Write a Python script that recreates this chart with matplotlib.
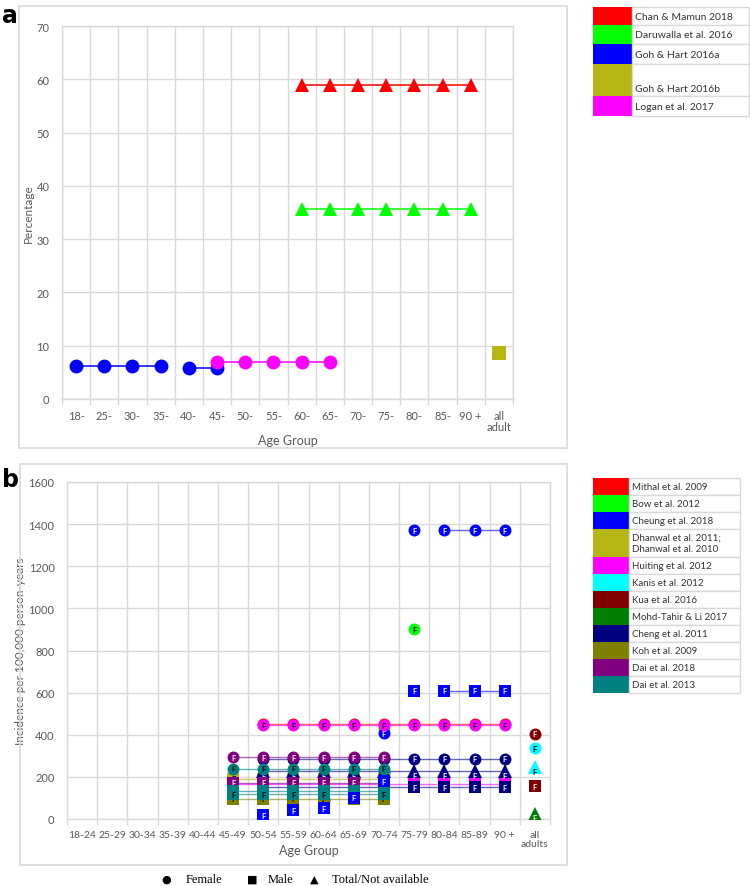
import numpy as np
import matplotlib.pyplot as plt
from matplotlib.patches import Rectangle

plt.rcParams["font.family"] = ["Lato", "DejaVu Sans"]

W, H = 750, 887          # figure size in pixels
GRID = "#d9d9d9"
TXT = "#595959"

# ------------------------------------------------------------
# panel a : prevalence (percentage)
# ------------------------------------------------------------
ages_a = ["18-", "25-", "30-", "35-", "40-", "45-", "50-", "55-", "60-",
          "65-", "70-", "75-", "80-", "85-", "90 +", "all\nadult"]

chan_ages = ["60-", "65-", "70-", "75-", "80-", "85-", "90 +"]
chan_vals = [59, 59, 59, 59, 59, 59, 59]
daru_ages = ["60-", "65-", "70-", "75-", "80-", "85-", "90 +"]
daru_vals = [35.6, 35.6, 35.6, 35.6, 35.6, 35.6, 35.6]
goh_a1_ages = ["18-", "25-", "30-", "35-"]
goh_a1_vals = [6.1, 6.1, 6.1, 6.1]
goh_a2_ages = ["40-", "45-"]
goh_a2_vals = [5.8, 5.8]
logan_ages = ["45-", "50-", "55-", "60-", "65-"]
logan_vals = [6.9, 6.9, 6.9, 6.9, 6.9]
goh_b_ages = ["all\nadult"]
goh_b_vals = [8.6]

# ------------------------------------------------------------
# panel b : incidence per 100,000 person-years
# ------------------------------------------------------------
ages_b = ["18-24", "25-29", "30-34", "35-39", "40-44", "45-49", "50-54",
          "55-59", "60-64", "65-69", "70-74", "75-79", "80-84", "85-89",
          "90 +", "all\nadults"]

mithal_f_ages = ["50-54", "55-59", "60-64", "65-69", "70-74", "75-79", "80-84", "85-89", "90 +"]
mithal_f_vals = [452, 452, 452, 452, 452, 452, 452, 452, 452]

bow_f1_ages = ["70-74"]
bow_f1_vals = [432]
bow_f2_ages = ["75-79"]
bow_f2_vals = [900]

cheung_f1_ages = ["60-64", "65-69", "70-74"]
cheung_f1_vals = [88, 195, 220]
cheung_f2_ages = ["70-74"]
cheung_f2_vals = [406]
cheung_f3_ages = ["75-79"]
cheung_f3_vals = [1370]
cheung_f4_ages = ["80-84", "85-89", "90 +"]
cheung_f4_vals = [1370, 1370, 1370]
cheung_m1_ages = ["50-54", "55-59", "60-64", "65-69", "70-74"]
cheung_m1_vals = [17, 41, 52, 100, 180]
cheung_m2_ages = ["75-79"]
cheung_m2_vals = [610]
cheung_m3_ages = ["80-84", "85-89", "90 +"]
cheung_m3_vals = [610, 610, 610]

dhanwal_m_ages = ["45-49", "50-54", "55-59", "60-64", "65-69", "70-74"]
dhanwal_m_vals = [190, 190, 190, 190, 190, 190]

huiting_f_ages = ["50-54", "55-59", "60-64", "65-69", "70-74", "75-79", "80-84", "85-89", "90 +"]
huiting_f_vals = [445, 445, 445, 445, 445, 445, 445, 445, 445]
huiting_m_ages = ["45-49", "50-54", "55-59", "60-64", "65-69", "70-74", "75-79", "80-84", "85-89", "90 +"]
huiting_m_vals = [165, 165, 165, 165, 165, 165, 165, 165, 165, 165]

kanis_f_ages = ["all\nadults"]
kanis_f_vals = [335]
kanis_t_ages = ["all\nadults"]
kanis_t_vals = [245]

kua_f_ages = ["all\nadults"]
kua_f_vals = [405]
kua_m_ages = ["all\nadults"]
kua_m_vals = [155]

mohd_t_ages = ["all\nadults"]
mohd_t_vals = [25]

cheng_f_ages = ["50-54", "55-59", "60-64", "65-69", "70-74", "75-79", "80-84", "85-89", "90 +"]
cheng_f_vals = [285, 285, 285, 285, 285, 285, 285, 285, 285]
cheng_t_ages = ["50-54", "55-59", "60-64", "65-69", "70-74", "75-79", "80-84", "85-89", "90 +"]
cheng_t_vals = [228, 228, 228, 228, 228, 228, 228, 228, 228]
cheng_m_ages = ["50-54", "55-59", "60-64", "65-69", "70-74", "75-79", "80-84", "85-89", "90 +"]
cheng_m_vals = [150, 150, 150, 150, 150, 150, 150, 150, 150]

koh_m_ages = ["45-49", "50-54", "55-59", "60-64", "65-69", "70-74"]
koh_m_vals = [95, 95, 95, 95, 95, 95]

dai18_f_ages = ["45-49", "50-54", "55-59", "60-64", "65-69", "70-74"]
dai18_f_vals = [293, 293, 293, 293, 293, 293]
dai18_m_ages = ["45-49", "50-54", "55-59", "60-64", "65-69", "70-74"]
dai18_m_vals = [172, 172, 172, 172, 172, 172]

dai13_f_ages = ["45-49", "50-54", "55-59", "60-64", "65-69", "70-74"]
dai13_f_vals = [238, 238, 238, 238, 238, 238]
dai13_m1_ages = ["45-49", "50-54", "55-59", "60-64", "65-69", "70-74"]
dai13_m1_vals = [135, 135, 135, 135, 135, 135]
dai13_m2_ages = ["45-49", "50-54", "55-59", "60-64", "65-69", "70-74"]
dai13_m2_vals = [117, 117, 117, 117, 117, 117]

# legend entries / colours
studies_a = ["Chan & Mamun 2018", "Daruwalla et al. 2016", "Goh & Hart 2016a",
             "Goh & Hart 2016b", "Logan et al. 2017"]
colors_a = ["#ff0000", "#00ff00", "#0000ff", "#b5b514", "#ff00ff"]

studies_b = ["Mithal et al. 2009", "Bow et al. 2012", "Cheung et al. 2018",
             "Dhanwal et al. 2011;\nDhanwal et al. 2010", "Huiting et al. 2012",
             "Kanis et al. 2012", "Kua et al. 2016", "Mohd-Tahir & Li 2017",
             "Cheng et al. 2011", "Koh et al. 2009", "Dai et al. 2018", "Dai et al. 2013"]
colors_b = ["#ff0000", "#00ff00", "#0000ff", "#b5b514", "#ff00ff", "#00ffff",
            "#800000", "#008000", "#000080", "#808000", "#800080", "#008080"]


def fx(px):
    return px / W


def fy(py):
    return 1 - py / H


fig = plt.figure(figsize=(W / 100, H / 100), dpi=100)

# outer panel frames
for (x0, y0, x1, y1) in [(19, 7, 567, 449), (20, 465, 567, 866)]:
    fig.patches.append(Rectangle((fx(x0), fy(y1)), fx(x1) - fx(x0), fy(y0) - fy(y1),
                                 transform=fig.transFigure, fill=False,
                                 edgecolor=GRID, linewidth=1.2))

fig.text(fx(2), fy(16), "a", fontsize=17, fontweight="bold", family="DejaVu Sans", va="center")
fig.text(fx(2), fy(480), "b", fontsize=17, fontweight="bold", family="DejaVu Sans", va="center")


def style_axes(ax, labels, ylim, ystep, ylabel, tick_fs, xlab_y):
    n = len(labels)
    ax.set_xlim(-0.5, n - 0.5)
    ax.set_ylim(*ylim)
    ax.set_yticks(np.arange(ylim[0], ylim[1] + 1, ystep))
    ax.set_xticks(np.arange(n))
    ax.set_xticklabels(labels, fontsize=tick_fs, color=TXT, linespacing=1.0)
    ax.set_xticks(np.arange(n + 1) - 0.5, minor=True)
    ax.tick_params(axis="x", which="major", length=0, pad=8)
    ax.tick_params(axis="x", which="minor", length=4, color=GRID, width=1)
    ax.tick_params(axis="y", length=0, pad=9, labelsize=8, labelcolor=TXT)
    ax.grid(axis="x", which="minor", color=GRID, linewidth=1)
    ax.grid(axis="y", which="major", color=GRID, linewidth=1)
    for s in ax.spines.values():
        s.set_color(GRID)
        s.set_linewidth(1)
    ax.set_axisbelow(True)
    ax.set_ylabel(ylabel, fontsize=8.5, color=TXT, labelpad=2)
    ax.set_xlabel("Age Group", fontsize=9, color=TXT, va="center")
    ax.xaxis.set_label_coords(0.5, xlab_y)


# ------------------------------------------------------------
# panel a
# ------------------------------------------------------------
ax1 = fig.add_axes([fx(62), fy(400), fx(513) - fx(62), fy(27) - fy(400)])
style_axes(ax1, ages_a, (0, 70), 10, "Percentage", 8, -41 / 373)
pos_a = {lab: i for i, lab in enumerate(ages_a)}

series_a = [
    (chan_ages, chan_vals, colors_a[0], "^"),
    (daru_ages, daru_vals, colors_a[1], "^"),
    (goh_a1_ages, goh_a1_vals, colors_a[2], "o"),
    (goh_a2_ages, goh_a2_vals, colors_a[2], "o"),
    (logan_ages, logan_vals, colors_a[4], "o"),
    (goh_b_ages, goh_b_vals, colors_a[3], "s"),
]
for k, (ages, vals, c, m) in enumerate(series_a):
    xs = [pos_a[a] for a in ages]
    ms = 10 if m != "s" else 9.5
    ax1.plot(xs, vals, color=c, lw=1.1, marker=m, markersize=ms,
             markeredgewidth=0, zorder=3 + k)

# ------------------------------------------------------------
# panel b
# ------------------------------------------------------------
ax2 = fig.add_axes([fx(67), fy(820), fx(550) - fx(67), fy(483) - fy(820)])
style_axes(ax2, ages_b, (0, 1600), 200, "Incidence per 100,000 person-years", 7.5, -31 / 337)
pos_b = {lab: i for i, lab in enumerate(ages_b)}

# (ages, values, colour, marker, connect, F-colour)
series_b = [
    (mithal_f_ages, mithal_f_vals, colors_b[0], "o", True, "black"),
    (bow_f1_ages, bow_f1_vals, colors_b[1], "o", False, "black"),
    (bow_f2_ages, bow_f2_vals, colors_b[1], "o", False, "black"),
    (cheung_f1_ages, cheung_f1_vals, colors_b[2], "o", False, "white"),
    (cheung_f2_ages, cheung_f2_vals, colors_b[2], "o", False, "white"),
    (cheung_f3_ages, cheung_f3_vals, colors_b[2], "o", False, "white"),
    (cheung_f4_ages, cheung_f4_vals, colors_b[2], "o", True, "white"),
    (cheung_m2_ages, cheung_m2_vals, colors_b[2], "s", False, "white"),
    (cheung_m3_ages, cheung_m3_vals, colors_b[2], "s", True, "white"),
    (dhanwal_m_ages, dhanwal_m_vals, colors_b[3], "s", True, "black"),
    (huiting_f_ages, huiting_f_vals, colors_b[4], "o", True, "black"),
    (huiting_m_ages, huiting_m_vals, colors_b[4], "s", True, "black"),
    (kanis_f_ages, kanis_f_vals, colors_b[5], "o", False, "black"),
    (kanis_t_ages, kanis_t_vals, colors_b[5], "^", False, "black"),
    (kua_f_ages, kua_f_vals, colors_b[6], "o", False, "white"),
    (kua_m_ages, kua_m_vals, colors_b[6], "s", False, "white"),
    (mohd_t_ages, mohd_t_vals, colors_b[7], "^", False, "white"),
    (cheng_f_ages, cheng_f_vals, colors_b[8], "o", True, "white"),
    (cheng_t_ages, cheng_t_vals, colors_b[8], "^", True, "white"),
    (cheng_m_ages, cheng_m_vals, colors_b[8], "s", True, "white"),
    (koh_m_ages, koh_m_vals, colors_b[9], "s", True, "black"),
    (dai18_f_ages, dai18_f_vals, colors_b[10], "o", True, "white"),
    (dai18_m_ages, dai18_m_vals, colors_b[10], "s", True, "white"),
    (dai13_f_ages, dai13_f_vals, colors_b[11], "o", True, "black"),
    (dai13_m1_ages, dai13_m1_vals, colors_b[11], "s", True, "black"),
    (dai13_m2_ages, dai13_m2_vals, colors_b[11], "s", True, "black"),
    (cheung_m1_ages, cheung_m1_vals, colors_b[2], "s", False, "white"),
]

for k, (ages, vals, c, m, connect, fc) in enumerate(series_b):
    xs = [pos_b[a] for a in ages]
    if connect and len(xs) > 1:
        ax2.plot(xs, vals, color=c, lw=1, alpha=0.6, zorder=2)
    ms = {"o": 8.6, "s": 8.2, "^": 9.5}[m]
    ax2.plot(xs, vals, linestyle="none", marker=m, markersize=ms, color=c,
             markeredgewidth=0, zorder=3 + 2 * k)
    for x, v in zip(xs, vals):
        dy = -20 if m == "^" else 0
        ax2.text(x, v + dy, "F", color=fc, fontsize=5.5, fontweight="bold",
                 ha="center", va="center", zorder=4 + 2 * k)


# ------------------------------------------------------------
# legend tables (drawn in pixel coordinates)
# ------------------------------------------------------------
def legend_table(x0, xm, x1, y_top, heights, labels, colors, fs, align_bottom=()):
    y = y_top
    for lab, c, h in zip(labels, colors, heights):
        fig.patches.append(Rectangle((fx(x0), fy(y + h)), fx(xm) - fx(x0), fy(y) - fy(y + h),
                                     transform=fig.transFigure, facecolor=c,
                                     edgecolor="none"))
        fig.patches.append(Rectangle((fx(xm), fy(y + h)), fx(x1) - fx(xm), fy(y) - fy(y + h),
                                     transform=fig.transFigure, facecolor="white",
                                     edgecolor=GRID, linewidth=1))
        if lab in align_bottom:
            fig.text(fx(xm + 3), fy(y + h - 8), lab, fontsize=fs, color="#333333",
                     va="center", ha="left")
        else:
            fig.text(fx(xm + 3), fy(y + h / 2), lab, fontsize=fs, color="#333333",
                     va="center", ha="left", linespacing=1.3)
        y += h


legend_table(593, 632, 749, 8, [18, 19, 20, 32, 20], studies_a, colors_a, 7.5,
             align_bottom=("Goh & Hart 2016b",))
legend_table(593, 629, 740, 479, [17, 17, 17, 28, 17, 17, 17, 17, 17, 17, 17, 17],
             studies_b, colors_b, 7)

# bottom key for marker shapes
key_y = fy(880)
fig.text(fx(166), key_y, "●", fontsize=8, family="DejaVu Sans", ha="center", va="center")
fig.text(fx(186), key_y, "Female", fontsize=9, family="Liberation Serif", va="center")
fig.text(fx(252), key_y, "■", fontsize=8, family="DejaVu Sans", ha="center", va="center")
fig.text(fx(268), key_y, "Male", fontsize=9, family="Liberation Serif", va="center")
fig.text(fx(314), key_y, "▲", fontsize=8, family="DejaVu Sans", ha="center", va="center")
fig.text(fx(332), key_y, "Total/Not available", fontsize=9, family="Liberation Serif", va="center")

fig.savefig("out.png", dpi=100)
